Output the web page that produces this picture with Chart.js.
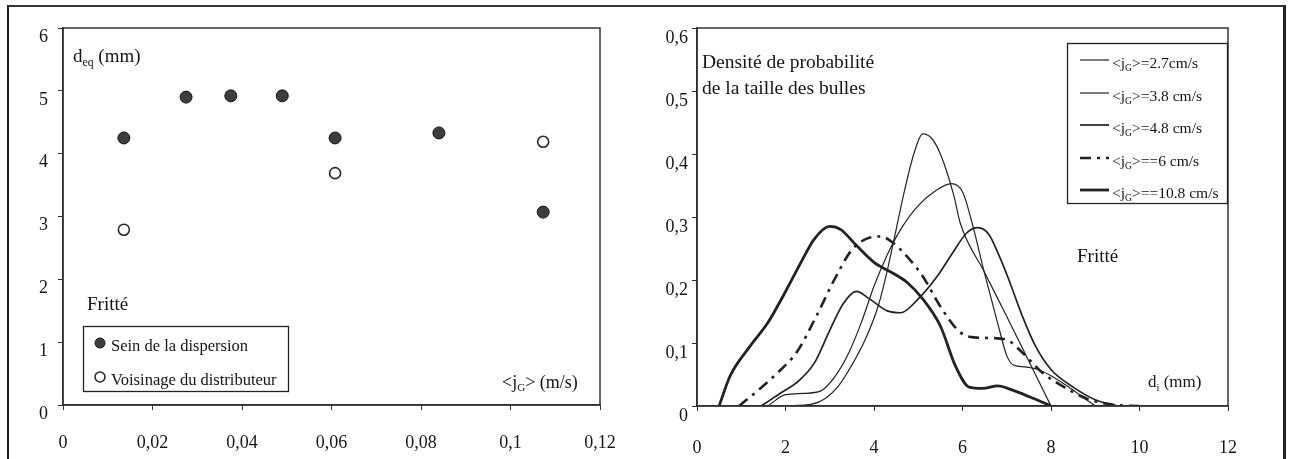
<!DOCTYPE html>
<html><head><meta charset="utf-8">
<script src="https://cdn.jsdelivr.net/npm/chart.js@4.4.1/dist/chart.umd.min.js"></script>
<style>
html,body{margin:0;padding:0;background:#fff;}
body{width:1289px;height:459px;position:relative;overflow:hidden;}
#frame{position:absolute;left:7px;top:5px;width:1279px;height:470px;border-top:2px solid #333;border-left:2px solid #222;border-right:3px solid #222;box-sizing:border-box;}
#c1{position:absolute;left:0;top:0;}
#c2{position:absolute;left:640px;top:0;}
</style></head><body>
<div id="frame"></div>
<canvas id="c1" width="640" height="459"></canvas>
<canvas id="c2" width="649" height="459"></canvas>
<script>
// ---------- Left chart data ----------
const jgSein   = [0.0136, 0.0275, 0.0375, 0.049, 0.0608, 0.084, 0.1073];
const deqSein  = [4.25, 4.90, 4.92, 4.92, 4.25, 4.33, 3.07];
const jgVois   = [0.0136, 0.0608, 0.1073];
const deqVois  = [2.79, 3.69, 4.19];
const leftLabels = ['Sein de la dispersion', 'Voisinage du distributeur'];

// ---------- Right chart data ----------
const seriesLabels = ['<jG>=2.7cm/s', '<jG>=3.8 cm/s', '<jG>=4.8 cm/s', '<jG>==6 cm/s', '<jG>==10.8 cm/s'];
const d27x = [2.0, 2.6, 2.9, 3.2, 3.5, 3.8, 4.1, 4.3, 4.5, 4.7, 4.9, 5.1, 5.3, 5.5, 5.8, 5.95, 6.5, 7.0, 7.5, 8.0];
const d27y = [0, 0.003, 0.012, 0.032, 0.065, 0.105, 0.16, 0.215, 0.28, 0.345, 0.4, 0.432, 0.425, 0.4, 0.335, 0.29, 0.212, 0.142, 0.071, 0];
const d38x = [1.6, 2.0, 2.4, 2.8, 3.1, 3.4, 3.7, 4.0, 4.3, 4.6, 5.0, 5.4, 5.75, 6.0, 6.2, 6.5, 6.8, 7.0, 7.15, 7.4, 7.7, 8.0, 8.4, 8.7, 9.0];
const d38y = [0, 0.018, 0.02, 0.024, 0.045, 0.08, 0.13, 0.19, 0.24, 0.28, 0.318, 0.342, 0.353, 0.34, 0.295, 0.21, 0.13, 0.08, 0.065, 0.062, 0.058, 0.048, 0.03, 0.015, 0];
const d48x = [1.45, 1.9, 2.3, 2.65, 3.0, 3.3, 3.6, 3.9, 4.3, 4.6, 5.0, 5.4, 5.75, 6.1, 6.35, 6.6, 6.8, 7.05, 7.35, 7.65, 8.0, 8.5, 9.0, 9.5];
const d48y = [0, 0.021, 0.04, 0.068, 0.12, 0.162, 0.182, 0.17, 0.151, 0.148, 0.17, 0.203, 0.24, 0.275, 0.283, 0.272, 0.243, 0.2, 0.143, 0.095, 0.058, 0.03, 0.01, 0];
const d60x = [0.95, 1.4, 1.9, 2.25, 2.7, 3.1, 3.5, 3.85, 4.15, 4.45, 4.75, 5.1, 5.5, 5.9, 6.15, 6.6, 7.0, 7.35, 7.8, 8.25, 8.8, 9.4, 10.0];
const d60y = [0, 0.026, 0.058, 0.085, 0.143, 0.2, 0.248, 0.266, 0.269, 0.258, 0.237, 0.206, 0.158, 0.12, 0.11, 0.108, 0.105, 0.085, 0.053, 0.032, 0.012, 0.002, 0];
const d108x = [0.5, 0.75, 1.2, 1.6, 1.95, 2.35, 2.65, 3.0, 3.25, 3.6, 4.0, 4.45, 4.75, 5.1, 5.5, 5.85, 6.15, 6.45, 6.8, 7.1, 7.5, 8.0];
const d108y = [0, 0.048, 0.095, 0.132, 0.175, 0.228, 0.265, 0.285, 0.28, 0.255, 0.228, 0.21, 0.196, 0.17, 0.127, 0.062, 0.03, 0.028, 0.032, 0.026, 0.015, 0];

const FONT = "'Liberation Serif', 'Times New Roman', serif";
const INK = '#151515';
const pts = (xs, ys) => xs.map((x, i) => ({x, y: ys[i]}));

function rich(ctx, x, y, parts, size) {
  ctx.save();
  ctx.fillStyle = INK; ctx.textBaseline = 'middle'; ctx.textAlign = 'left';
  let cx = x;
  for (const [t, sub] of parts) {
    const s = sub ? size * 0.62 : size;
    ctx.font = s + 'px ' + FONT;
    ctx.fillText(t, cx, sub ? y + size * 0.3 : y);
    cx += ctx.measureText(t).width;
  }
  ctx.restore();
  return cx;
}
function jgParts(label) {
  return [['<j', false], ['G', true], [label.slice(3), false]];
}
function frameBox(chart) {
  const a = chart.chartArea, ctx = chart.ctx;
  ctx.save(); ctx.strokeStyle = '#333'; ctx.lineWidth = 1.5;
  ctx.strokeRect(a.left, a.top, a.right - a.left, a.bottom - a.top);
  ctx.restore();
}
function axisCommon(extra) {
  return Object.assign({
    grid: {drawOnChartArea: false, drawTicks: true, tickLength: 5, tickColor: '#333', color: '#333'},
    border: {color: '#222', width: 1.5},
  }, extra);
}

// ---------- Left chart ----------
const leftNotes = {
  id: 'leftNotes',
  afterDraw(chart) {
    const ctx = chart.ctx;
    frameBox(chart);
    rich(ctx, 73, 57, [['d', false], ['eq', true], [' (mm)', false]], 19);
    rich(ctx, 87, 305, [['Fritté', false]], 19);
    rich(ctx, 502, 383, [['<j', false], ['G', true], ['> (m/s)', false]], 18);
    ctx.save();
    ctx.strokeStyle = '#222'; ctx.lineWidth = 1.3;
    ctx.strokeRect(83.5, 326.5, 205, 65);
    const ys = [343, 377];
    chart.data.datasets.forEach((ds, i) => {
      ctx.beginPath();
      ctx.arc(100, ys[i], 5, 0, Math.PI * 2);
      ctx.fillStyle = ds.backgroundColor; ctx.fill();
      ctx.lineWidth = ds.borderWidth; ctx.strokeStyle = ds.borderColor; ctx.stroke();
      rich(ctx, 111, ys[i] + 4, [[ds.label, false]], 16.5);
    });
    ctx.restore();
  }
};

new Chart(document.getElementById('c1'), {
  type: 'scatter',
  data: {
    datasets: [
      {label: leftLabels[0], data: pts(jgSein, deqSein), backgroundColor: '#3d3d3d', borderColor: '#151515', borderWidth: 1, pointRadius: 6},
      {label: leftLabels[1], data: pts(jgVois, deqVois), backgroundColor: '#ffffff', borderColor: '#2a2a2a', borderWidth: 1.6, pointRadius: 5.5}
    ]
  },
  options: {
    responsive: false, animation: false,
    layout: {padding: {left: 0, right: 40, top: 28, bottom: 0}},
    plugins: {legend: {display: false}, tooltip: {enabled: false}},
    scales: {
      x: axisCommon({
        type: 'linear', min: 0, max: 0.12,
        ticks: {stepSize: 0.02, autoSkip: false, maxRotation: 0, color: INK, padding: 22,
          font: {family: FONT, size: 18},
          callback: v => String(Math.round(v * 100) / 100).replace('.', ',')},
        afterFit(s) { s.height = 54; s.paddingLeft = 0; s.paddingRight = 0; }
      }),
      y: axisCommon({
        min: 0, max: 6,
        ticks: {stepSize: 1, color: INK, padding: 10, labelOffset: 9, font: {family: FONT, size: 18}},
        afterFit(s) { s.width = 63; s.paddingTop = 0; s.paddingBottom = 0; }
      })
    }
  },
  plugins: [leftNotes]
});

// ---------- Right chart ----------
const rightNotes = {
  id: 'rightNotes',
  afterDraw(chart) {
    const ctx = chart.ctx;
    frameBox(chart);
    rich(ctx, 62, 63, [['Densité de probabilité', false]], 19.5);
    rich(ctx, 62, 89, [['de la taille des bulles', false]], 19.5);
    rich(ctx, 437, 257, [['Fritté', false]], 19);
    rich(ctx, 508, 383, [['d', false], ['i', true], [' (mm)', false]], 17);
    ctx.save();
    ctx.strokeStyle = '#222'; ctx.lineWidth = 1.3;
    ctx.strokeRect(427.5, 43.5, 160, 160);
    const ys = [63, 96, 128, 161, 193];
    chart.data.datasets.forEach((ds, i) => {
      ctx.beginPath();
      ctx.setLineDash(ds.borderDash || []);
      ctx.lineWidth = ds.borderWidth; ctx.strokeStyle = ds.borderColor;
      ctx.moveTo(440, ys[i] - 3); ctx.lineTo(469, ys[i] - 3); ctx.stroke();
      ctx.setLineDash([]);
      rich(ctx, 472, ys[i] + 1, jgParts(ds.label), 15.5);
    });
    ctx.restore();
  }
};

const lineBase = {pointRadius: 0, fill: false, cubicInterpolationMode: 'monotone', borderColor: '#222'};
new Chart(document.getElementById('c2'), {
  type: 'line',
  data: {
    datasets: [
      Object.assign({label: seriesLabels[0], data: pts(d27x, d27y), borderWidth: 1.2}, lineBase),
      Object.assign({label: seriesLabels[1], data: pts(d38x, d38y), borderWidth: 1.2}, lineBase),
      Object.assign({label: seriesLabels[2], data: pts(d48x, d48y), borderWidth: 1.7}, lineBase),
      Object.assign({label: seriesLabels[3], data: pts(d60x, d60y), borderWidth: 2.6, borderDash: [11, 6, 3, 6]}, lineBase),
      Object.assign({label: seriesLabels[4], data: pts(d108x, d108y), borderWidth: 2.8}, lineBase)
    ]
  },
  options: {
    responsive: false, animation: false,
    layout: {padding: {left: 0, right: 61, top: 28, bottom: 0}},
    plugins: {legend: {display: false}, tooltip: {enabled: false}},
    scales: {
      x: axisCommon({
        type: 'linear', min: 0, max: 12,
        ticks: {stepSize: 2, autoSkip: false, maxRotation: 0, color: INK, padding: 26, font: {family: FONT, size: 18}},
        afterFit(s) { s.height = 53; s.paddingLeft = 0; s.paddingRight = 0; }
      }),
      y: axisCommon({
        min: 0, max: 0.6,
        ticks: {stepSize: 0.1, color: INK, padding: 4, labelOffset: 10, font: {family: FONT, size: 18},
          callback: v => String(Math.round(v * 10) / 10).replace('.', ',')},
        afterFit(s) { s.width = 57; s.paddingTop = 0; s.paddingBottom = 0; }
      })
    }
  },
  plugins: [rightNotes]
});
</script>
</body></html>
